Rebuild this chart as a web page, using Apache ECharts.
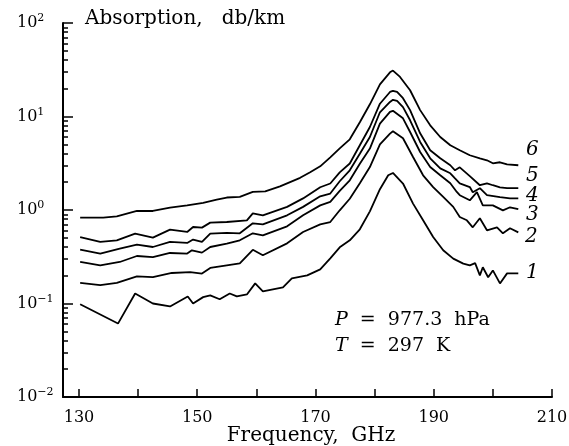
<!DOCTYPE html>
<html><head><meta charset="utf-8">
<script src="https://cdn.jsdelivr.net/npm/echarts@6/dist/echarts.min.js"></script>
<style>html,body{margin:0;padding:0;background:#fff}#c{width:569px;height:446px}</style>
</head><body><div id="c"></div>
<script>
// Curve 1
const freq1 = [130.2,136.6,139.5,142.5,145.4,148.4,149.3,151.0,152.2,153.8,155.5,156.7,158.4,159.8,161.1,164.5,166.0,168.6,170.8,172.5,174.1,175.8,177.5,179.2,180.9,182.3,183.1,184.8,186.5,188.2,189.9,191.6,193.3,195.0,196.1,197.0,197.8,198.3,199.2,200.0,201.2,202.4,203.4,204.3];
const abs1  = [0.098,0.061,0.128,0.100,0.093,0.119,0.100,0.117,0.122,0.111,0.128,0.119,0.125,0.164,0.135,0.149,0.186,0.200,0.232,0.304,0.399,0.474,0.622,0.968,1.67,2.35,2.49,1.92,1.17,0.776,0.514,0.371,0.302,0.267,0.256,0.270,0.200,0.244,0.191,0.226,0.164,0.210,0.210,0.210];
// Curve 2
const freq2 = [130.2,133.6,136.4,139.8,142.5,145.7,148.8,150.8,152.2,155.0,157.2,159.4,161.1,165.2,167.9,170.8,172.5,174.1,175.8,177.5,179.2,180.9,182.6,183.1,184.8,186.5,188.2,189.9,191.6,193.3,194.4,195.6,196.6,197.8,199.0,200.7,201.7,202.9,204.3];
const abs2  = [0.166,0.157,0.166,0.195,0.191,0.212,0.217,0.209,0.240,0.256,0.269,0.375,0.328,0.440,0.582,0.703,0.744,0.993,1.32,1.93,2.88,5.04,6.56,6.95,5.85,3.69,2.35,1.76,1.38,1.08,0.842,0.776,0.653,0.815,0.607,0.653,0.563,0.637,0.577];
// Curve 3
const freq3 = [130.2,133.6,136.9,139.8,142.5,145.4,148.3,149.1,150.8,152.2,155.0,157.2,159.4,161.1,165.2,167.9,170.8,172.5,174.1,175.8,177.5,179.2,180.9,182.6,183.1,184.8,186.0,187.7,189.4,191.1,192.8,193.9,194.4,196.1,197.3,198.3,200.0,201.7,202.9,204.3];
const abs3  = [0.278,0.256,0.278,0.322,0.314,0.347,0.342,0.371,0.350,0.402,0.437,0.474,0.563,0.536,0.669,0.878,1.12,1.22,1.60,2.08,3.12,4.54,8.40,11.2,11.5,9.56,6.83,4.17,2.88,2.35,1.93,1.56,1.44,1.27,1.55,1.12,1.12,0.99,1.07,1.02];
// Curve 4
const freq4 = [130.2,133.6,136.9,139.8,142.5,145.4,148.3,149.3,150.8,152.2,155.0,157.2,159.4,161.1,165.2,167.9,170.8,172.5,174.1,175.8,177.5,179.2,180.9,182.6,183.1,183.8,184.8,186.0,187.7,189.4,191.1,192.8,193.6,194.4,196.1,196.6,197.8,199.0,201.2,202.9,204.3];
const abs4  = [0.377,0.342,0.387,0.427,0.402,0.455,0.444,0.483,0.455,0.559,0.568,0.563,0.721,0.703,0.878,1.08,1.40,1.50,2.03,2.66,3.99,6.04,11.1,14.3,15.1,14.7,12.6,9.11,5.34,3.57,2.79,2.47,2.18,1.93,1.76,1.55,1.71,1.44,1.37,1.33,1.33];
// Curve 5
const freq5 = [130.2,133.6,136.4,139.5,142.5,145.4,148.3,149.3,150.8,152.2,155.0,158.4,159.4,161.1,165.2,167.9,170.8,172.5,174.1,175.8,177.5,179.2,180.9,182.6,183.1,183.8,184.8,186.0,187.7,189.4,191.1,192.8,193.6,194.4,196.1,197.8,199.0,200.0,201.2,202.4,204.3];
const abs5  = [0.514,0.455,0.474,0.559,0.507,0.617,0.582,0.658,0.648,0.733,0.744,0.776,0.922,0.878,1.08,1.33,1.75,1.92,2.53,3.14,4.92,7.72,13.7,18.3,18.8,18.3,15.7,11.7,6.61,4.35,3.57,3.01,2.66,2.86,2.30,1.84,1.93,1.84,1.75,1.71,1.71];
// Curve 6
const freq6 = [130.2,134.1,136.4,139.8,142.5,145.4,148.3,151.0,153.3,155.0,157.2,159.4,161.5,164.0,167.4,169.1,170.8,172.5,174.1,175.8,177.5,179.2,180.9,182.6,183.1,184.3,186.0,187.7,189.4,191.1,192.8,194.4,196.1,197.8,199.0,200.0,201.2,202.4,204.3];
const abs6  = [0.829,0.829,0.856,0.976,0.976,1.06,1.12,1.19,1.29,1.36,1.38,1.56,1.58,1.79,2.21,2.53,2.93,3.66,4.57,5.70,8.67,13.5,22.1,29.7,31.0,26.5,19.1,11.7,8.05,6.04,4.92,4.35,3.85,3.57,3.40,3.16,3.24,3.08,3.01];

const curveNames = ['1','2','3','4','5','6'];
const xTicks = [130,140,150,160,170,180,190,200,210];
const xLabels = [130,150,170,190,210];
const yMajor = [0.01,0.1,1,10,100];
const yMinor = [0.02,0.03,0.04,0.05,0.06,0.07,0.08,0.09,0.2,0.3,0.4,0.5,0.6,0.7,0.8,0.9,2,3,4,5,6,7,8,9,20,30,40,50,60,70,80,90];

const FONT = 'DejaVu Serif';
const freqs = [freq1,freq2,freq3,freq4,freq5,freq6];
const abss = [abs1,abs2,abs3,abs4,abs5,abs6];

const W = 569, H = 446, GL = 63, GR = 17, GT = 23, GB = 49;
const plotW = W - GL - GR, plotH = H - GT - GB;

const chart = echarts.init(document.getElementById('c'), null, {renderer:'canvas'});
const series = freqs.map((fr, k) => ({
  name: curveNames[k], type: 'line', xAxisIndex: 0, yAxisIndex: 0, showSymbol: false, symbol: 'none',
  animation: false, silent: true,
  lineStyle: {color: '#000', width: 1.8},
  data: fr.map((f, i) => [f, abss[k][i]])
}));

const labelPos = [[526,263],[525,227],[526,205],[526,186],[526,166],[526,140]];
const graphics = [
  {type:'text', left:85, top:9, style:{text:'Absorption,   db/km', font:'20px "DejaVu Serif"', fill:'#000'}},
  {type:'text', x:311, y:436, style:{text:'Frequency,  GHz', font:'20px "DejaVu Serif"', fill:'#000', align:'center', verticalAlign:'middle'}},
  {type:'text', left:335, top:311, style:{text:'{i|P}  =  977.3  hPa', font:'19px "DejaVu Serif"', fill:'#000', rich:{i:{fontStyle:'italic', fontSize:19, fontFamily:FONT}}}},
  {type:'text', left:335, top:337, style:{text:'{i|T}  =  297  K', font:'19px "DejaVu Serif"', fill:'#000', rich:{i:{fontStyle:'italic', fontSize:19, fontFamily:FONT}}}}
].concat(curveNames.map((n,k)=>({type:'text', left:labelPos[k][0], top:labelPos[k][1], style:{text:n, font:'italic 20px "DejaVu Serif"', fill:'#000'}})));

const hidden = {show:false};
chart.setOption({
  animation: false,
  grid: {left:GL, right:GR, top:GT, bottom:GB, outerBoundsMode:'none', containLabel:false},
  xAxis: [{
    type:'value', min:127.3, max:210, position:'bottom',
    axisLine:{lineStyle:{color:'#000', width:2}},
    axisTick:hidden,
    axisLabel:{customValues:xLabels, margin:13, color:'#000', fontFamily:FONT, fontSize:16},
    splitLine:hidden
  },{
    type:'value', min:127.3, max:210, position:'top', offset:-plotH,
    axisLine:hidden, axisLabel:hidden, splitLine:hidden,
    axisTick:{show:true, length:8, customValues:xTicks, lineStyle:{color:'#000', width:1.5}}
  }],
  yAxis: [{
    type:'log', logBase:10, min:0.01, max:100, position:'left',
    axisLine:{lineStyle:{color:'#000', width:2}},
    axisTick:hidden,
    axisLabel:{customValues:yMajor, align:'left', margin:46, color:'#000',
      formatter: v => { const e = Math.round(Math.log10(v)); return '{b|10}{s|' + (e<0 ? '\u2212' + (-e) : e) + '}'; },
      rich:{b:{fontFamily:FONT, fontSize:16, color:'#000', verticalAlign:'middle', lineHeight:20}, s:{fontFamily:FONT, fontSize:11, color:'#000', verticalAlign:'top', lineHeight:11}}},
    splitLine:hidden
  },{
    type:'log', logBase:10, min:0.01, max:100, position:'right', offset:-plotW,
    axisLine:hidden, axisLabel:hidden, splitLine:hidden,
    axisTick:{show:true, length:10, customValues:yMajor, lineStyle:{color:'#000', width:1.5}}
  },{
    type:'log', logBase:10, min:0.01, max:100, position:'right', offset:-plotW,
    axisLine:hidden, axisLabel:hidden, splitLine:hidden,
    axisTick:{show:true, length:5, customValues:yMinor, lineStyle:{color:'#000', width:1.5}}
  }],
  series: series,
  graphic: graphics
});
</script></body></html>
